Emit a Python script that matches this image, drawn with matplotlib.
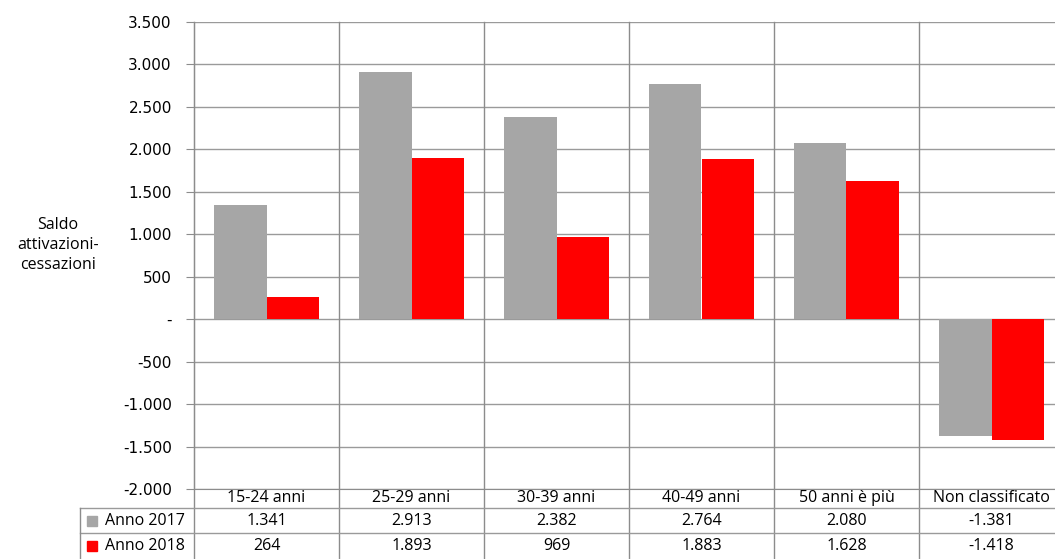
import matplotlib.pyplot as plt
from matplotlib.lines import Line2D
from matplotlib.patches import Rectangle
from matplotlib.ticker import FuncFormatter
import matplotlib.transforms as mtransforms

# Saldo attivazioni-cessazioni per classe di età
categories = ["15-24 anni", "25-29 anni", "30-39 anni", "40-49 anni", "50 anni è più", "Non classificato"]
series_names = ["Anno 2017", "Anno 2018"]
values_2017 = [1341, 2913, 2382, 2764, 2080, -1381]
values_2018 = [264, 1893, 969, 1883, 1628, -1418]
y_ticks = [-2000, -1500, -1000, -500, 0, 500, 1000, 1500, 2000, 2500, 3000, 3500]

W, H = 1055, 559
GRAY = "#a6a6a6"
RED = "#ff0000"
LINE = "#8c8c8c"
GRID = "#9a9a9a"


def it_num(v, pos=None):
    # Italian thousands separator, zero shown as a dash
    if v == 0:
        return "-"
    s = f"{abs(int(round(v))):,}".replace(",", ".")
    return ("-" if v < 0 else "") + s


def fy(py):
    return 1 - py / H


def fx(px):
    return px / W


fig = plt.figure(figsize=(W / 100, H / 100), dpi=100)
ax = fig.add_axes([fx(194), fy(489), fx(1064) - fx(194), fy(22) - fy(489)])

x = list(range(len(categories)))
bw = 0.36
ax.bar([i - bw / 2 for i in x], values_2017, width=bw, color=GRAY, zorder=3)
ax.bar([i + bw / 2 for i in x], values_2018, width=bw, color=RED, zorder=3)

ax.set_xlim(-0.5, len(categories) - 0.5)
ax.set_ylim(-2000, 3500)
ax.set_yticks(y_ticks)
ax.yaxis.set_major_formatter(FuncFormatter(it_num))
ax.set_xticks([])
for t in ax.get_yticklabels():
    t.set_fontfamily("DejaVu Sans")
    t.set_fontsize(11)
ax.tick_params(axis="y", length=6, color=LINE, pad=10)

for y in y_ticks:
    ax.axhline(y, color=GRID, lw=1, zorder=1)
for s in ["top", "right"]:
    ax.spines[s].set_visible(False)
ax.spines["left"].set_color(LINE)
ax.spines["bottom"].set_color(LINE)

# column separators run from the top of the plot down through the table
xt = mtransforms.blended_transform_factory(ax.transData, fig.transFigure)
for b in [i + 0.5 for i in x[:-1]] + [-0.5]:
    fig.add_artist(Line2D([b, b], [fy(559), fy(22)], transform=xt, color=LINE, lw=1))

# table rows
for py in [508, 533]:
    fig.add_artist(Line2D([fx(80), 1], [fy(py), fy(py)], transform=fig.transFigure, color=GRID, lw=1))
fig.add_artist(Line2D([fx(80), fx(80)], [fy(508), fy(559)], transform=fig.transFigure, color=LINE, lw=1))

font = "Open Sans"
fs = 11.5
for i, c in enumerate(categories):
    fig.text(i, fy(498), c, transform=xt, ha="center", va="center", family=font, fontsize=fs)
    fig.text(i, fy(521), it_num(values_2017[i]), transform=xt, ha="center", va="center", family=font, fontsize=fs)
    fig.text(i, fy(546), it_num(values_2018[i]), transform=xt, ha="center", va="center", family=font, fontsize=fs)

for name, col, py in zip(series_names, [GRAY, RED], [521, 546]):
    fig.add_artist(Rectangle((fx(87), fy(py + 5)), fx(10), fy(py - 5) - fy(py + 5),
                             transform=fig.transFigure, color=col))
    fig.text(fx(105), fy(py), name, ha="left", va="center", family=font, fontsize=fs)

fig.text(fx(58), fy(245), "Saldo\nattivazioni-\ncessazioni", ha="center", va="center",
         family=font, fontsize=fs, linespacing=1.3)

fig.savefig("out.png", dpi=100)
